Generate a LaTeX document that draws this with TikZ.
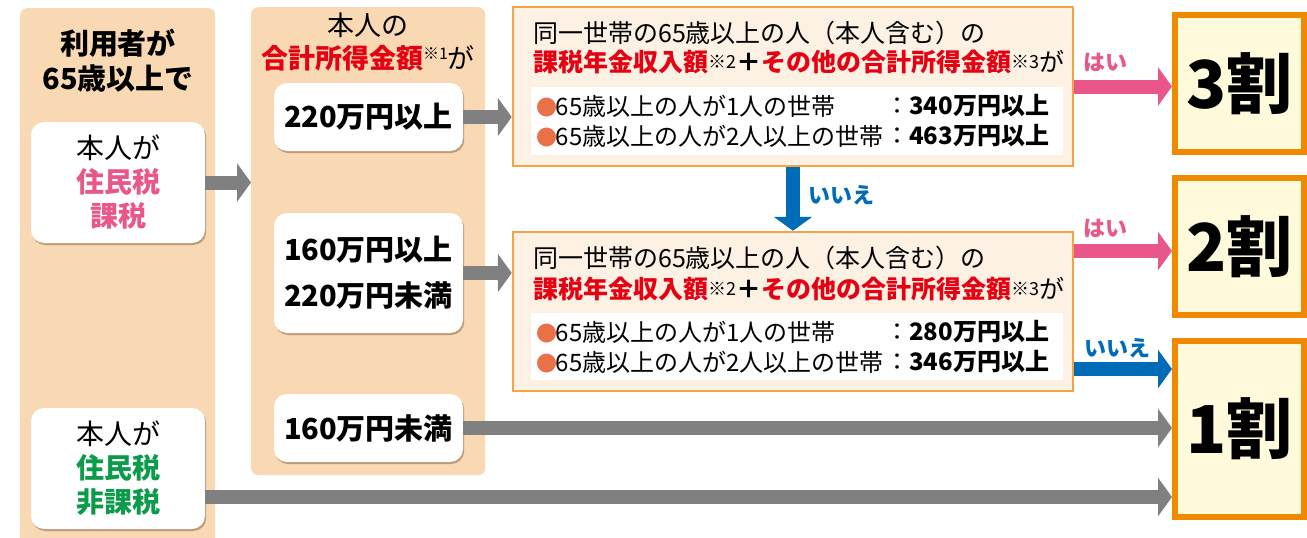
\documentclass[tikz,border=0pt]{standalone}
\usepackage{fontspec}
\setmainfont{Noto Sans CJK JP}
\usetikzlibrary{arrows.meta,shadows}
\definecolor{peach}{HTML}{F9D8B4}
\definecolor{condfill}{HTML}{FDF1E4}
\definecolor{condline}{HTML}{F5A445}
\definecolor{resfill}{HTML}{FFFADC}
\definecolor{resline}{HTML}{EF8A00}
\definecolor{pinkc}{HTML}{E9578A}
\definecolor{greenc}{HTML}{0B9B4A}
\definecolor{redc}{HTML}{E50012}
\definecolor{bluec}{HTML}{006CB7}
\definecolor{grayc}{HTML}{808080}
\definecolor{bulletc}{HTML}{EA7048}
\newcommand{\fsz}[2]{\fontsize{#1pt}{#2pt}\selectfont}
\newcommand{\bul}{{\fsz{21}{21}\color{bulletc}●}\hspace{-0.06em}}
\begin{document}
\begin{tikzpicture}[x=1pt,y=-1pt,
  sz/.style 2 args={minimum width=#1pt, minimum height=#2pt},
  panel/.style={fill=peach, rounded corners=7pt, inner sep=0pt},
  wbox/.style={fill=white, rounded corners=13pt, inner sep=0pt, align=center,
     drop shadow={shadow xshift=1.2pt, shadow yshift=-2pt, opacity=0.4, fill=black!50!brown}},
  cond/.style={fill=condfill, draw=condline, line width=2.5pt, inner sep=0pt},
  innerbox/.style={fill=white, inner sep=0pt},
  result/.style={fill=resfill, draw=resline, line width=6pt, inner sep=0pt, font=\fsz{66}{66}\bfseries},
  txt/.style={anchor=west, inner sep=0pt, font=\fsz{25}{25}},
  itxt/.style={anchor=west, inner sep=0pt, font=\fsz{24}{24}},
  lbl/.style={inner sep=0pt, font=\fsz{22}{22}\bfseries},
  bigarrow/.style={line width=14pt, -{Triangle[length=14pt,width=38pt]}},
  grayarrow/.style={bigarrow, draw=grayc},
  pinkarrow/.style={bigarrow, draw=pinkc},
  bluearrow/.style={bigarrow, draw=bluec}
]
\useasboundingbox (0,0) rectangle (1307,538);
\clip (0,0) rectangle (1307,538);

% panels
\node[panel, sz={195}{560}, anchor=north west] (p1) at (20,8) {};
\node[panel, sz={234}{468}, anchor=north west] (p2) at (251,7) {};

\node[font=\fsz{29}{35}\bfseries, align=center] (t1) at (118,61) {利用者が\\65歳以上で};
\node[font=\fsz{27}{33}, align=center] (t2) at (368,42) {本人の\\{\bfseries\color{redc}合計所得金額}\raisebox{0.35em}{\fsz{16}{16}※1}が};

\node[wbox, sz={174}{121}, font=\fsz{28}{34}] (taxed) at (118,182.5) {本人が\\{\bfseries\color{pinkc}住民税}\\{\bfseries\color{pinkc}課税}};
\node[wbox, sz={174}{121}, font=\fsz{28}{34}] (nontax) at (118,468.5) {本人が\\{\bfseries\color{greenc}住民税}\\{\bfseries\color{greenc}非課税}};

\node[wbox, sz={189}{68}, font=\fsz{29}{46}\bfseries] (b220) at (368.5,117) {220万円以上};
\node[wbox, sz={189}{120}, font=\fsz{29}{46}\bfseries] (b160) at (368.5,273) {160万円以上\\220万円未満};
\node[wbox, sz={189}{68}, font=\fsz{29}{46}\bfseries] (bless) at (368.5,428) {160万円未満};

% condition boxes
\node[cond, sz={560}{159}] (c1) at (793,86.5) {};
\node[innerbox, sz={532}{68}] (i1) at (797,121) {};
\node[txt] (c1a) at (533,33) {同一世帯の65歳以上の人（本人含む）の};
\node[txt] (c1b) at (533,62) {{\bfseries\color{redc}課税年金収入額}\raisebox{0.12em}{\fsz{18}{18}※2}{\bfseries ＋}{\bfseries\color{redc}その他の合計所得金額}\raisebox{0.12em}{\fsz{18}{18}※3}が};
\node[itxt] (c1c) at (536,106) {\bul 65歳以上の人が1人の世帯};
\node[itxt] (c1d) at (885,106) {：{\bfseries 340万円以上}};
\node[itxt] (c1e) at (536,136) {\bul 65歳以上の人が2人以上の世帯};
\node[itxt] (c1f) at (885,136) {：{\bfseries 463万円以上}};

\node[cond, sz={560}{159}] (c2) at (793,311.5) {};
\node[innerbox, sz={532}{67}] (i2) at (797,346.5) {};
\node[txt] (c2a) at (533,258) {同一世帯の65歳以上の人（本人含む）の};
\node[txt] (c2b) at (533,289) {{\bfseries\color{redc}課税年金収入額}\raisebox{0.12em}{\fsz{18}{18}※2}{\bfseries ＋}{\bfseries\color{redc}その他の合計所得金額}\raisebox{0.12em}{\fsz{18}{18}※3}が};
\node[itxt] (c2c) at (536,332) {\bul 65歳以上の人が1人の世帯};
\node[itxt] (c2d) at (885,332) {：{\bfseries 280万円以上}};
\node[itxt] (c2e) at (536,362) {\bul 65歳以上の人が2人以上の世帯};
\node[itxt] (c2f) at (885,362) {：{\bfseries 346万円以上}};

% results
\node[result, sz={129}{137}] (r3) at (1239.5,83.5) {3割};
\node[result, sz={129}{137}] (r2) at (1239.5,246.5) {2割};
\node[result, sz={129}{176}] (r1) at (1239.5,429) {1割};

% arrows
\draw[grayarrow] (taxed.east) -- (taxed.east -| p2.west);
\draw[grayarrow] (b220.east) -- (b220.east -| c1.west);
\draw[grayarrow] (b160.east) -- (b160.east -| c2.west);
\draw[grayarrow] (bless.east) -- (bless.east -| r1.west);
\draw[grayarrow] ([yshift=-28.5pt]nontax.east) -- ([yshift=-28.5pt]nontax.east -| r1.west);

\draw[pinkarrow] (c1.east) -- (c1.east -| r3.west);
\draw[pinkarrow] ([yshift=60.5pt]c2.east) -- ([yshift=60.5pt]c2.east -| r2.west);
\draw[bluearrow] ([yshift=-57.5pt]c2.east) -- ([yshift=-57.5pt]c2.east -| r1.west);
\draw[bluearrow] (c1.south) -- (c2.north);

\node[lbl, text=pinkc] (yes1) at (1105,62) {はい};
\node[lbl, text=pinkc] (yes2) at (1105,228) {はい};
\node[lbl, text=bluec] (no1) at (1117,348) {いいえ};
\node[lbl, text=bluec, anchor=west] (no2) at (808,195) {いいえ};
\end{tikzpicture}
\end{document}
